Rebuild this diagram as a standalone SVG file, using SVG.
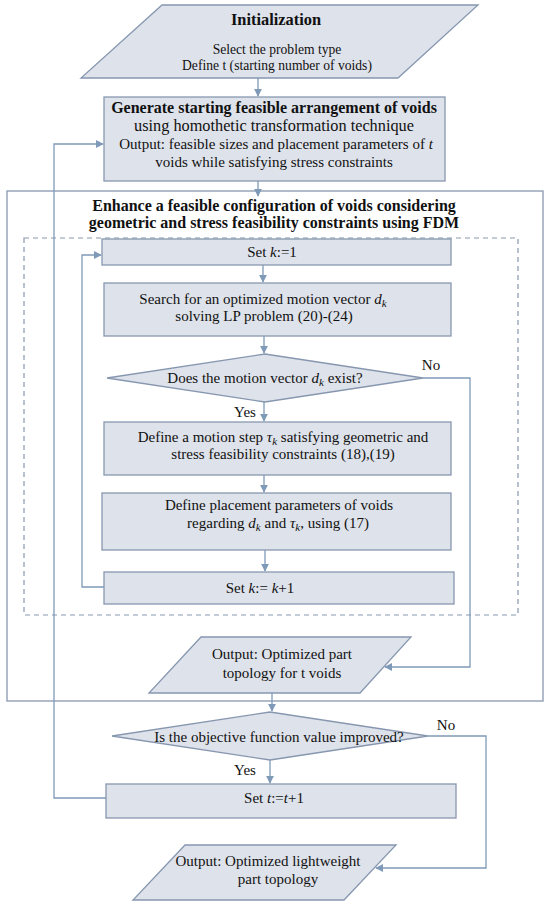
<svg xmlns="http://www.w3.org/2000/svg" width="550" height="908" viewBox="0 0 550 908">
<style>
.n{fill:#dee2ea;stroke:#8797b0;stroke-width:1.3}
.c{fill:none;stroke:#7f9ab8;stroke-width:1.3}
text{font-family:"Liberation Serif","Times New Roman",serif;font-size:15px;fill:#111;text-anchor:middle}
.b{font-weight:bold;font-size:16px}
.i{font-style:italic}
.s{font-style:italic;font-size:11px}
.sm{font-size:13.6px}
</style>
<defs>
<marker id="a" viewBox="0 0 10 10" refX="9" refY="5" markerWidth="8" markerHeight="8" markerUnits="userSpaceOnUse" orient="auto">
<path d="M0,0 L10,5 L0,10 z" fill="#7f9ab8"/>
</marker>
</defs>
<rect x="0" y="0" width="550" height="908" fill="#fff"/>
<g id="frames">
<rect x="7" y="191" width="536" height="510" fill="none" stroke="#8797b0" stroke-width="1.3"/>
<rect x="24" y="238" width="494" height="377" fill="none" stroke="#8797b0" stroke-width="1.2" stroke-dasharray="5,4"/>
<text class="b" x="274" y="211">Enhance a feasible configuration of voids considering</text>
<text class="b" x="274" y="228">geometric and stress feasibility constraints using FDM</text>
</g>
<g id="connectors">
<path class="c" d="M258,78 V96" marker-end="url(#a)"/>
<path class="c" d="M258,181 V196" marker-end="url(#a)"/>
<path class="c" d="M263,265 V282" marker-end="url(#a)"/>
<path class="c" d="M264,336 V353" marker-end="url(#a)"/>
<path class="c" d="M264,402 V421" marker-end="url(#a)"/>
<path class="c" d="M264,475 V492" marker-end="url(#a)"/>
<path class="c" d="M265,550 V571" marker-end="url(#a)"/>
<path class="c" d="M104,587 H82 V255 H101" marker-end="url(#a)"/>
<path class="c" d="M423,378 H470 V667 H385" marker-end="url(#a)"/>
<path class="c" d="M272,693 V711" marker-end="url(#a)"/>
<path class="c" d="M270,760 V783" marker-end="url(#a)"/>
<path class="c" d="M106,798 H54 V144 H103" marker-end="url(#a)"/>
<path class="c" d="M428,736 H486 V868 H376" marker-end="url(#a)"/>
<text x="431" y="370">No</text>
<text x="245" y="417">Yes</text>
<text x="446" y="730">No</text>
<text x="245" y="775">Yes</text>
</g>
<g id="init">
<path class="n" d="M162,5 H478 L398,78 H81 Z"/>
<text class="b" x="276" y="25" style="font-size:16.4px">Initialization</text>
<text class="sm" x="277" y="54">Select the problem type</text>
<text class="sm" x="277" y="70">Define t (starting number of voids)</text>
</g>
<g id="generate">
<rect class="n" x="104" y="97" width="341" height="84"/>
<text class="b" x="274" y="113">Generate starting feasible arrangement of voids</text>
<text x="274" y="131" style="font-size:16.3px">using homothetic transformation technique</text>
<text x="276" y="149">Output: feasible sizes and placement parameters of <tspan class="i">t</tspan></text>
<text x="274" y="167">voids while satisfying stress constraints</text>
</g>
<g id="setk1">
<rect class="n" x="102" y="239" width="349" height="26"/>
<text x="272" y="257">Set <tspan class="i">k</tspan>:=1</text>
</g>
<g id="search">
<rect class="n" x="104" y="283" width="347" height="53"/>
<text x="263" y="304">Search for an optimized motion vector  <tspan class="i">d</tspan><tspan class="s" dy="3">k</tspan></text>
<text x="264" y="321">solving LP problem (20)-(24)</text>
</g>
<g id="decision1">
<path class="n" d="M107,378 L265,354 L423,378 L265,402 Z"/>
<text x="265" y="383">Does the motion vector <tspan class="i">d</tspan><tspan class="s" dy="3">k</tspan><tspan dy="-3">  exist?</tspan></text>
</g>
<g id="motionstep">
<rect class="n" x="104" y="422" width="347" height="53"/>
<text x="283" y="442">Define a motion step <tspan class="i">τ</tspan><tspan class="s" dy="3">k</tspan><tspan dy="-3"> satisfying geometric and</tspan></text>
<text x="283" y="459">stress feasibility constraints (18),(19)</text>
</g>
<g id="placement">
<rect class="n" x="102" y="493" width="349" height="57"/>
<text x="279" y="510">Define placement parameters of voids</text>
<text x="278" y="528">regarding <tspan class="i">d</tspan><tspan class="s" dy="3">k</tspan><tspan dy="-3">  and  </tspan><tspan class="i">τ</tspan><tspan class="s" dy="3">k</tspan><tspan dy="-3">, using (17)</tspan></text>
</g>
<g id="setk2">
<rect class="n" x="104" y="572" width="350" height="32"/>
<text x="260" y="593">Set <tspan class="i">k</tspan>:= <tspan class="i">k</tspan>+1</text>
</g>
<g id="output1">
<path class="n" d="M201,637 H411 L360,693 H149 Z"/>
<text x="282" y="659">Output: Optimized part</text>
<text x="282" y="678">topology for t voids</text>
</g>
<g id="decision2">
<path class="n" d="M112,736 L270,712 L428,736 L270,760 Z"/>
<text x="279" y="742">Is the objective function value improved?</text>
</g>
<g id="sett">
<rect class="n" x="106" y="784" width="350" height="34"/>
<text x="274" y="803">Set <tspan class="i">t</tspan>:=<tspan class="i">t</tspan>+1</text>
</g>
<g id="output2">
<path class="n" d="M185,845 H396 L344,900 H133 Z"/>
<text x="268" y="866">Output: Optimized lightweight</text>
<text x="278" y="884">part topology</text>
</g>
</svg>
